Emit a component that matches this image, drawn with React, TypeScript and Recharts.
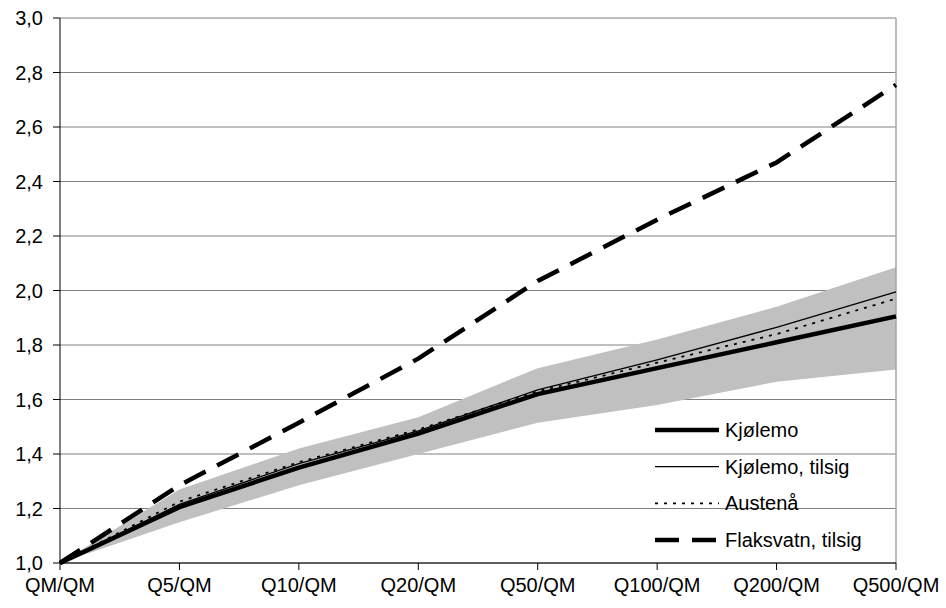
import { ComposedChart, Line, Area, XAxis, YAxis, CartesianGrid, Legend, ReferenceLine } from 'recharts'

const categories = ['QM/QM', 'Q5/QM', 'Q10/QM', 'Q20/QM', 'Q50/QM', 'Q100/QM', 'Q200/QM', 'Q500/QM']
const kjolemo = [1.0, 1.205, 1.35, 1.475, 1.62, 1.715, 1.81, 1.905]
const kjolemoTilsig = [1.0, 1.215, 1.365, 1.485, 1.635, 1.745, 1.865, 1.995]
const austena = [1.0, 1.225, 1.37, 1.49, 1.63, 1.735, 1.84, 1.97]
const flaksvatn = [1.0, 1.285, 1.515, 1.75, 2.035, 2.26, 2.47, 2.755]
const bandLow = [1.0, 1.15, 1.285, 1.4, 1.515, 1.58, 1.665, 1.71]
const bandHigh = [1.0, 1.27, 1.42, 1.535, 1.715, 1.82, 1.94, 2.085]
const yTicks = [1.0, 1.2, 1.4, 1.6, 1.8, 2.0, 2.2, 2.4, 2.6, 2.8, 3.0]

const FONT = '"Liberation Sans", Arial, sans-serif'

// draw order: dashed first, thick last
const SERIES = [
  { key: 'flaksvatn', name: 'Flaksvatn, tilsig', width: 4.5, dash: '24 13' },
  { key: 'austena', name: 'Austenå', width: 1.8, dash: '3 6' },
  { key: 'kjolemoTilsig', name: 'Kjølemo, tilsig', width: 1.3, dash: undefined },
  { key: 'kjolemo', name: 'Kjølemo', width: 4.5, dash: undefined },
]
const LEGEND_ORDER = ['kjolemo', 'kjolemoTilsig', 'austena', 'flaksvatn']

const data = categories.map((c, i) => ({
  cat: c,
  kjolemo: kjolemo[i],
  kjolemoTilsig: kjolemoTilsig[i],
  austena: austena[i],
  flaksvatn: flaksvatn[i],
  band: [bandLow[i], bandHigh[i]],
}))

const fmt = (v: number) => v.toFixed(1).replace('.', ',')

function LegendBox() {
  return (
    <svg width={250} height={150} style={{ display: 'block' }}>
      {LEGEND_ORDER.map((k, i) => {
        const s = SERIES.find(x => x.key === k)!
        const y = 18 + i * 36.7
        return (
          <g key={k}>
            <line x1={5} x2={69} y1={y} y2={y} stroke="#000" strokeWidth={s.width} strokeDasharray={s.dash} />
            <text x={75} y={y} dominantBaseline="central" fontSize={20} fontFamily={FONT} fill="#000">{s.name}</text>
          </g>
        )
      })}
    </svg>
  )
}

export default function App() {
  return (
    <div style={{ position: 'absolute', left: 0, top: 0, background: '#fff' }}>
      <ComposedChart width={946} height={608} data={data} margin={{ top: 18, right: 50, left: 0, bottom: 0 }}>
        <CartesianGrid vertical={false} stroke="#808080" strokeWidth={1} />
        <XAxis
          dataKey="cat"
          height={45}
          tickSize={7}
          tickMargin={8}
          tick={{ fontSize: 20, fill: '#000', fontFamily: FONT }}
          stroke="#000"
          interval={0}
        />
        <YAxis
          width={60}
          domain={[1, 3]}
          ticks={yTicks}
          tickFormatter={fmt}
          tickSize={7}
          tickMargin={10}
          tick={{ fontSize: 20, fill: '#000', fontFamily: FONT }}
          stroke="#000"
        />
        <Area
          dataKey="band"
          type="linear"
          fill="#c0c0c0"
          fillOpacity={1}
          stroke="none"
          legendType="none"
          isAnimationActive={false}
        />
        <ReferenceLine x="Q500/QM" stroke="#a6a6a6" strokeWidth={1.5} />
        {SERIES.map(s => (
          <Line
            key={s.key}
            dataKey={s.key}
            name={s.name}
            type="linear"
            stroke="#000"
            strokeWidth={s.width}
            strokeDasharray={s.dash}
            dot={false}
            activeDot={false}
            isAnimationActive={false}
          />
        ))}
        <Legend
          layout="vertical"
          align="center"
          verticalAlign="middle"
          content={() => <LegendBox />}
          wrapperStyle={{ left: 650, top: 412, width: 250 }}
        />
      </ComposedChart>
    </div>
  )
}
